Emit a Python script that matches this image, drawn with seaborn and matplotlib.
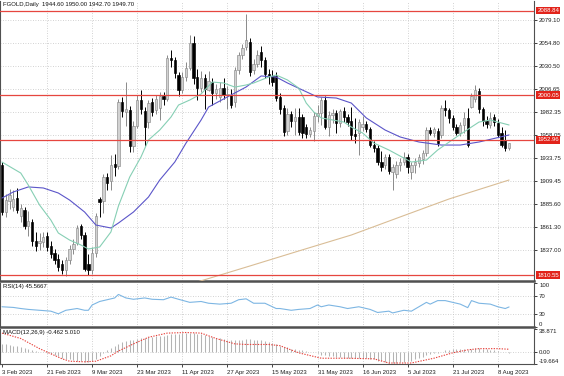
import numpy as np
import pandas as pd
import matplotlib
matplotlib.use('Agg')
import matplotlib.pyplot as plt
import seaborn as sns

# ---------------- data ----------------
opens = [1926,1877,1889,1882,1892,1873,1879,1862,1866,1846,1844,1845,1852,1841,1834,1828,1822,1816,1826,1838,
         1844,1862,1853,1822,1816,1834,1891,1889,1914,1910,1928,1925,1993,1982,1984,1947,1968,1995,1983,1972,
         1993,1984,1986,1999,1996,2039,2037,2021,2005,2019,2029,2055,2019,2008,2018,2005,2014,2002,1998,2008,
         2000,2000,1993,2026,2042,2051,2056,2026,2033,2045,2037,2022,2020,2020,1998,1986,1962,1980,1973,1977,
         1977,1966,1959,1962,1978,1981,1995,1966,1979,1981,1971,1983,1977,1973,1959,1960,1966,1970,1964,1948,
         1944,1930,1926,1935,1919,1917,1926,1930,1935,1919,1926,1929,1933,1939,1963,1960,1962,1958,1987,1984,
         1976,1967,1960,1969,1976,1988,1996,2004,1985,1973,1969,1977,1971,1960,1953,1944.6]
highs = [1930,1896,1901,1900,1902,1885,1882,1878,1870,1856,1855,1856,1856,1846,1838,1833,1826,1830,1842,1849,
         1863,1864,1856,1833,1840,1876,1893,1917,1918,1937,1938,1996,1998,2014,1989,1973,2000,2005,1988,1995,
         1997,2000,2003,2003,2042,2048,2040,2024,2024,2035,2063,2062,2028,2025,2022,2025,2018,2012,2014,2018,
         2010,2006,2030,2045,2054,2085,2060,2038,2048,2052,2040,2028,2026,2024,2002,1990,1986,1983,1986,1987,
         1980,1970,1966,1982,1990,1998,1999,1983,1985,1984,1985,1988,1980,1988,1976,1975,1978,1973,1967,1952,
         1948,1941,1938,1938,1928,1931,1934,1940,1938,1930,1934,1938,1942,1966,1966,1967,1965,1990,1995,1987,
         1979,1970,1972,1982,1987,2002,2011,2008,1988,1978,1982,1980,1975,1966,1963,1950.0]
lows = [1874,1872,1880,1878,1876,1866,1859,1852,1841,1836,1837,1840,1836,1829,1822,1815,1812,1810,1822,1833,
        1842,1849,1815,1811,1812,1830,1872,1876,1900,1900,1915,1922,1977,1968,1940,1940,1965,1980,1947,1965,
        1978,1980,1974,1990,1994,2030,2018,1999,2002,2015,2026,2012,1995,2003,1985,2004,1990,1996,1993,1996,
        1985,1986,1988,2022,2038,2048,2020,2022,2030,2030,2018,2012,2010,1994,1980,1957,1958,1966,1958,1958,
        1955,1955,1956,1952,1972,1969,1964,1957,1971,1960,1966,1972,1968,1953,1950,1937,1962,1961,1945,1940,
        1926,1920,1922,1917,1900,1913,1920,1926,1918,1912,1918,1924,1928,1936,1958,1956,1947,1955,1978,1971,
        1963,1958,1957,1960,1945,1986,1993,1981,1968,1965,1965,1968,1956,1945,1941,1942.7]
closes = [1877,1890,1895,1891,1879,1881,1862,1868,1846,1841,1847,1851,1840,1833,1826,1819,1816,1826,1838,1843,
          1860,1853,1817,1816,1834,1873,1888,1914,1908,1927,1924,1993,1983,1985,1946,1968,1995,1985,1967,1992,
          1982,1996,1999,1996,2039,2037,2023,2005,2019,2029,2055,2018,2008,2018,2006,2015,2002,2006,2008,2000,
          2001,1990,2026,2042,2050,2058,2024,2033,2042,2037,2022,2020,2014,1997,1985,1961,1980,1973,1977,1961,
          1960,1959,1963,1978,1981,1995,1966,1979,1981,1971,1983,1977,1972,1958,1957,1972,1970,1964,1948,1944,
          1930,1924,1935,1920,1924,1926,1930,1935,1924,1926,1930,1935,1939,1963,1960,1964,1950,1987,1984,1976,
          1967,1960,1969,1976,1948,1999,2005,1985,1973,1970,1976,1972,1958,1948,1944,1949.7]

# moving averages (bar index, price)
ma_fast_idx = [0,5,7,10,13,15,18,21,23,26,29,31,34,37,39,42,45,47,50,53,56,59,62,65,67,71,73,76,79,81,83,85,88,91,93,96,99,103,106,109,113,116,121,125,127,130,135]
ma_fast_val = [1929.6,1918.0,1905.4,1884.4,1868.6,1854.9,1847.5,1842.3,1838.1,1840.2,1856.0,1883.3,1913.8,1934.9,1952.8,1963.3,1977.0,1989.6,1994.9,2001.2,2013.8,2012.8,2008.5,2010.7,2012.8,2019.1,2021.2,2016.0,2007.5,1991.7,1982.3,1976.0,1973.9,1971.7,1966.5,1960.2,1949.6,1942.3,1935.9,1929.6,1931.7,1942.3,1956.0,1966.5,1971.7,1973.8,1968.6]
ma_mid_idx = [0,3,7,11,15,18,22,25,29,31,35,39,42,46,49,53,55,60,65,69,73,76,80,84,89,93,97,102,106,111,117,122,127,135]
ma_mid_val = [1891.7,1898.1,1903.4,1902.3,1897.0,1889.6,1877.0,1863.3,1860.2,1865.4,1877.0,1892.8,1910.7,1929.6,1949.6,1973.8,1987.5,1998.1,2008.6,2020.2,2019.1,2012.8,2005.4,1998.1,1997.0,1991.7,1976.0,1963.3,1956.0,1950.7,1947.5,1947.5,1950.7,1958.1]
ma_slow_idx = [50,66,79,93,106,119,135]
ma_slow_val = [1801.0,1820.2,1836.0,1852.8,1871.8,1890.7,1910.7]

# RSI(14)
rsi_idx = [0,3,5,7,10,13,15,17,20,22,23,24,26,28,30,31,33,35,38,40,43,45,47,50,53,55,58,61,63,65,67,70,73,74,77,79,82,84,85,87,90,92,95,98,100,103,104,107,109,111,113,114,116,118,120,122,124,125,127,130,132,134,135]
rsi_val = [46,44.5,42,40,38,36,30,38,42,38,38,50,58,62,66,74,66,63,66,63,62,68,63,56,58,54,52,54,62,64,54,54,42,42,38,40,42,50,46,50,46,42,46,40,33,36,32,38,36,46,56,52,60,60,56,52,44,60,54,52,46,42,45.57]

# MACD(12,26,9) main histogram, one value per bar
macd_hist = [14,13,12,11,10,8,7,5,3,2,1,0,-1,-3,-5,-7,-9,-11,-12,-13,
             -14,-15,-16,-17,-15,-11,-6,-1,3,7,10,14,17,19,20,21,22,23,24,25,
             26,27,27,28,29,30,31,31,32,32,33,32,31,30,29,27,26,24,23,22,
             21,20,20,20,21,22,22,21,21,20,18,17,15,13,11,9,8,6,5,4,
             3,2,1,0,-2,-4,-5,-6,-7,-8,-8,-9,-9,-10,-10,-10,-10,-10,-11,-12,
             -14,-15,-17,-18,-18,-18,-17,-16,-15,-14,-12,-10,-8,-5,-3,-2,-1,1,3,4,
             5,5,5,5,3,5,7,7,6,5,4,3,2,1,0,-0.462]
sig_idx = [0,5,10,16,18,22,25,29,31,35,39,44,49,53,57,62,65,71,74,79,85,92,99,103,109,115,120,124,127,132,135]
sig_val = [32,23,6,-11,-15,-16,-15,-6,2,14,25,32,33,32,23,14,13,13,11,-1,-10,-10,-11,-18,-18,-10,-1,4,6,6,5.01]

price_ticks = [2079.10,2054.80,2030.50,2006.65,1982.35,1958.05,1933.75,1909.45,1885.60,1861.30,1837.00]
level_prices = [2088.84,2000.05,1952.96,1810.55]
level_labels = ['2088.84','2000.05','1952.96','1810.55']
date_idx = [0,12,24,36,48,60,72,84,96,108,120,132]
date_labels = ['3 Feb 2023','21 Feb 2023','9 Mar 2023','23 Mar 2023','11 Apr 2023','27 Apr 2023',
               '15 May 2023','31 May 2023','16 Jun 2023','5 Jul 2023','21 Jul 2023','8 Aug 2023']
title = 'FGOLD,Daily  1944.60 1950.00 1942.70 1949.70'

# ---------------- figure ----------------
sns.set_theme(style='white')
plt.rcParams['font.family'] = ['Liberation Sans', 'DejaVu Sans']
FS = 4.3
W, H = 564, 376
fig = plt.figure(figsize=(W / 100, H / 100), dpi=100)
fig.patch.set_facecolor('white')

def rect(l, t, r, b):
    return [l / W, 1 - b / H, (r - l) / W, (b - t) / H]

ax = fig.add_axes(rect(0, 1, 534, 281))
ax_rsi = fig.add_axes(rect(0, 283, 534, 327))
ax_macd = fig.add_axes(rect(0, 329, 534, 364))
XLIM = (-0.53, 141.64)
grid_kw = dict(color='#c4c4c4', lw=0.6, linestyle=(0, (1, 2)))

df = pd.DataFrame({'o': opens, 'h': highs, 'l': lows, 'c': closes})
df['i'] = np.arange(len(df))
bull = df['c'] >= df['o']

for a in (ax, ax_rsi, ax_macd):
    a.set_xlim(*XLIM)
    a.set_facecolor('white')
    for xi in date_idx[1:]:
        a.axvline(xi, zorder=0, **grid_kw)
    for s in a.spines.values():
        s.set_color('#505050')
        s.set_linewidth(0.8)
    a.spines['top'].set_visible(False)
    a.yaxis.tick_right()
    a.tick_params(axis='y', length=2.5, width=0.6, labelsize=FS, pad=1.2, colors='#202020',
                  left=False, right=True)

# main price panel
for p in price_ticks:
    ax.axhline(p, zorder=0, **grid_kw)
ax.vlines(df['i'][bull], df['l'][bull], df['h'][bull], color='#8a8a8a', lw=0.7, zorder=2)
ax.vlines(df['i'][~bull], df['l'][~bull], df['h'][~bull], color='black', lw=0.7, zorder=2)
ax.bar(df['i'][bull], (df['c'] - df['o'])[bull], bottom=df['o'][bull], width=0.62,
       color='#d2d2d2', edgecolor='#8a8a8a', linewidth=0.45, zorder=3)
ax.bar(df['i'][~bull], (df['o'] - df['c'])[~bull], bottom=df['c'][~bull], width=0.62,
       color='black', edgecolor='black', linewidth=0.45, zorder=3)

sns.lineplot(x=ma_slow_idx, y=ma_slow_val, ax=ax, color='#d9bd96', lw=0.8, zorder=4)
sns.lineplot(x=ma_mid_idx, y=ma_mid_val, ax=ax, color='#5b55c9', lw=0.8, zorder=4)
sns.lineplot(x=ma_fast_idx, y=ma_fast_val, ax=ax, color='#86cfb4', lw=0.8, zorder=4)

for lv, lb in zip(level_prices, level_labels):
    ax.axhline(lv, color='#e6463f', lw=0.9, zorder=5)
    ax.annotate(lb, xy=(1, lv), xycoords=('axes fraction', 'data'), xytext=(2.3, 0),
                textcoords='offset points', ha='left', va='center', fontsize=FS, color='white',
                bbox=dict(boxstyle='square,pad=0.2', fc='#e2231a', ec='none'),
                annotation_clip=False, zorder=6)

ax.set_ylim(1804.4, 2099.1)
ax.set_yticks(price_ticks)
ax.set_yticklabels([f'{p:.2f}' for p in price_ticks])
ax.set_xticks([])
ax.set_xlabel('')
ax.set_ylabel('')
ax.spines['bottom'].set_linewidth(1.8)
ax.text(0.006, 0.997, title, transform=ax.transAxes, ha='left', va='top', fontsize=FS, color='#111')

# RSI panel
for lv in (30, 70):
    ax_rsi.axhline(lv, zorder=0, **grid_kw)
sns.lineplot(x=rsi_idx, y=rsi_val, ax=ax_rsi, color='#7db6e3', lw=0.8)
ax_rsi.set_ylim(0, 100)
ax_rsi.set_yticks([0, 30, 70, 100])
ax_rsi.set_yticklabels(['0', '30', '70', '100'])
tl = ax_rsi.get_yticklabels()
tl[0].set_va('bottom')
tl[3].set_va('top')
ax_rsi.set_xticks([])
ax_rsi.set_xlabel('')
ax_rsi.set_ylabel('')
ax_rsi.spines['bottom'].set_linewidth(1.8)
ax_rsi.text(0.006, 0.97, 'RSI(14) 45.5667', transform=ax_rsi.transAxes, ha='left', va='top',
            fontsize=FS, color='#111')

# MACD panel
ax_macd.axhline(0, zorder=0, **grid_kw)
ax_macd.vlines(df['i'], 0, macd_hist, color='#b4b4b4', lw=0.75, zorder=2)
sns.lineplot(x=sig_idx, y=sig_val, ax=ax_macd, color='#e8403a', lw=0.8, linestyle=(0, (1.2, 1.2)), zorder=3)
ax_macd.set_ylim(-19.664, 38.871)
ax_macd.set_yticks([-19.664, 0, 38.871])
ax_macd.set_yticklabels(['-19.664', '0.00', '38.871'])
tl = ax_macd.get_yticklabels()
tl[0].set_va('bottom')
tl[2].set_va('top')
ax_macd.set_xticks(date_idx)
ax_macd.set_xticklabels(date_labels, ha='left', fontsize=FS, color='#202020')
ax_macd.tick_params(axis='x', length=2.5, width=0.6, pad=1.5, bottom=True)
ax_macd.set_xlabel('')
ax_macd.set_ylabel('')
ax_macd.text(0.006, 0.97, 'MACD(12,26,9) -0.462 5.010', transform=ax_macd.transAxes, ha='left', va='top',
             fontsize=FS, color='#111')

fig.savefig('out.png', dpi=100, facecolor='white')
